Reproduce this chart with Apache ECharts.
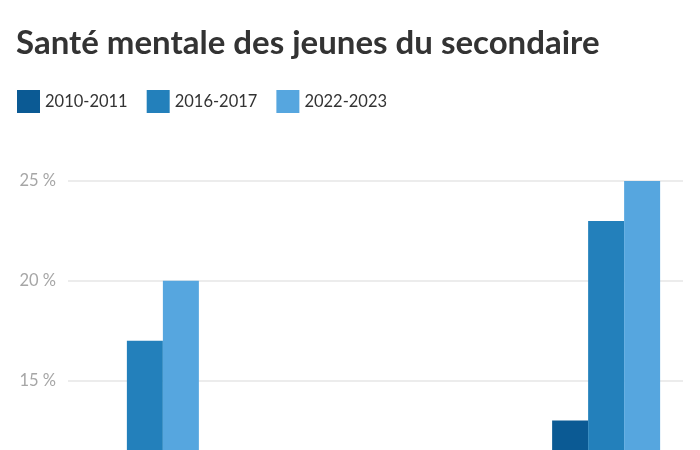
<!DOCTYPE html>
<html>
<head>
<meta charset="utf-8">
<script src="https://cdn.jsdelivr.net/npm/echarts@6/dist/echarts.min.js"></script>
<style>html,body{margin:0;padding:0;background:#fff;overflow:hidden;}#c{width:700px;height:700px;}</style>
</head>
<body>
<div id="c"></div>
<script>
const categories = ["Trouble anxieux", "Dépression", "Trouble alimentaire", "TDAH"];
const s2010 = [9, 5, 2, 13];
const s2016 = [17, 6, 3, 23];
const s2022 = [20, 8, 4, 25];
const seriesNames = ["2010-2011", "2016-2017", "2022-2023"];
const yTicks = [0, 5, 10, 15, 20, 25];
const colors = ["#0b5a94", "#2380bb", "#56a6df"];

const chart = echarts.init(document.getElementById('c'));
const font = 'Lato, "Noto Sans", sans-serif';
chart.setOption({
  animation: false,
  title: {
    text: "Santé mentale des jeunes du secondaire",
    left: 16, top: 27, padding: 0,
    textStyle: { fontFamily: font, fontWeight: 'bold', fontSize: 33, color: '#333' }
  },
  legend: {
    left: 17, top: 90, padding: 0,
    icon: 'rect', itemWidth: 23, itemHeight: 23, itemGap: 19,
    textStyle: { fontFamily: font, fontSize: 16.5, color: '#333' },
    data: seriesNames
  },
  grid: { left: 68, right: 17, top: 181, bottom: 19, containLabel: false },
  xAxis: {
    type: 'category', data: categories,
    axisLine: { show: false }, axisTick: { show: false },
    axisLabel: { show: true, color: '#666' }
  },
  yAxis: {
    type: 'value', min: yTicks[0], max: yTicks[yTicks.length - 1], interval: 5,
    axisLabel: { formatter: '{value} %', color: '#a6a6a6', fontFamily: font, fontSize: 16.5, margin: 12 },
    splitLine: { lineStyle: { color: '#e6e6e6', width: 1.5 } },
    axisLine: { show: false }, axisTick: { show: false }
  },
  series: [
    { name: seriesNames[0], type: 'bar', data: s2010, barWidth: 36, barGap: '0%', itemStyle: { color: colors[0] } },
    { name: seriesNames[1], type: 'bar', data: s2016, barWidth: 36, barGap: '0%', itemStyle: { color: colors[1] } },
    { name: seriesNames[2], type: 'bar', data: s2022, barWidth: 36, barGap: '0%', itemStyle: { color: colors[2] } }
  ]
});
</script>
</body>
</html>
